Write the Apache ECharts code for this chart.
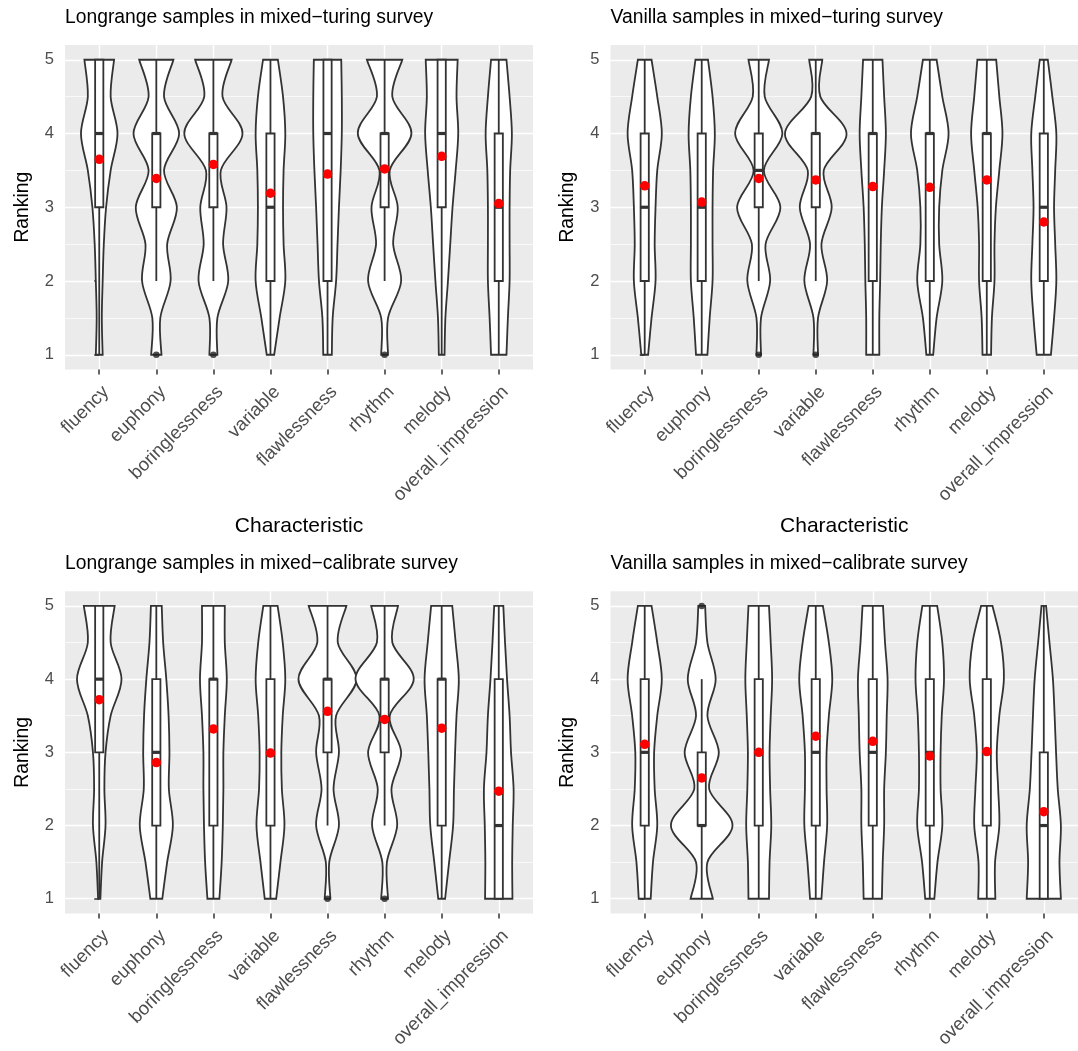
<!DOCTYPE html>
<html>
<head>
<meta charset="utf-8">
<title>Ranking by characteristic</title>
<script src="https://cdn.jsdelivr.net/npm/echarts@6.0.0/dist/echarts.min.js"></script>
<style>
  html, body { margin: 0; padding: 0; background: #fff; }
  #main { width: 1078px; height: 1051px; }
</style>
</head>
<body>
<div id="main"></div>
<script>
// categories on the x axis and their tick positions
const categories = ['fluency', 'euphony', 'boringlessness', 'variable', 'flawlessness', 'rhythm', 'melody', 'overall_impression'];
const catTicks = [0, 1, 2, 3, 4, 5, 6, 7];
const rankTicks = [1, 2, 3, 4, 5];
const rankMinor = [1.5, 2.5, 3.5, 4.5];
// violin half widths (category units) read at ranking 1, 1.5, 2, ... 5
const turingLongWidths = [
  [0.06, 0.045, 0.06, 0.08, 0.12, 0.2, 0.32, 0.2, 0.26],
  [0.09, 0.07, 0.25, 0.19, 0.36, 0.135, 0.40, 0.135, 0.30],
  [0.07, 0.07, 0.26, 0.17, 0.23, 0.13, 0.51, 0.16, 0.32],
  [0.065, 0.16, 0.26, 0.23, 0.22, 0.23, 0.26, 0.22, 0.13],
  [0.075, 0.09, 0.15, 0.175, 0.2, 0.23, 0.25, 0.25, 0.24],
  [0.06, 0.06, 0.29, 0.15, 0.23, 0.09, 0.47, 0.135, 0.31],
  [0.05, 0.065, 0.11, 0.15, 0.19, 0.245, 0.29, 0.26, 0.28],
  [0.135, 0.16, 0.19, 0.19, 0.19, 0.2, 0.23, 0.19, 0.135]
];
const turingVanillaWidths = [
  [0.06, 0.12, 0.19, 0.175, 0.19, 0.22, 0.30, 0.22, 0.12],
  [0.1, 0.14, 0.19, 0.19, 0.19, 0.2, 0.23, 0.19, 0.11],
  [0.04, 0.04, 0.2, 0.12, 0.38, 0.09, 0.415, 0.105, 0.18],
  [0.04, 0.04, 0.2, 0.1, 0.28, 0.14, 0.54, 0.08, 0.115],
  [0.115, 0.115, 0.13, 0.14, 0.16, 0.2, 0.23, 0.2, 0.17],
  [0.06, 0.12, 0.22, 0.165, 0.165, 0.22, 0.33, 0.22, 0.12],
  [0.075, 0.09, 0.135, 0.135, 0.16, 0.22, 0.275, 0.22, 0.165],
  [0.125, 0.18, 0.22, 0.2, 0.18, 0.2, 0.22, 0.15, 0.07]
];
const calibLongWidths = [
  [0.02, 0.05, 0.11, 0.09, 0.11, 0.2, 0.39, 0.2, 0.27],
  [0.105, 0.19, 0.29, 0.22, 0.23, 0.215, 0.175, 0.12, 0.095],
  [0.105, 0.145, 0.165, 0.175, 0.175, 0.2, 0.235, 0.2, 0.2],
  [0.1, 0.175, 0.245, 0.2, 0.19, 0.215, 0.26, 0.215, 0.125],
  [0.05, 0.03, 0.2, 0.105, 0.2, 0.15, 0.51, 0.18, 0.33],
  [0.06, 0.04, 0.22, 0.12, 0.29, 0.09, 0.51, 0.135, 0.235],
  [0.06, 0.13, 0.2, 0.215, 0.235, 0.26, 0.3, 0.245, 0.185],
  [0.24, 0.235, 0.245, 0.26, 0.215, 0.19, 0.145, 0.11, 0.08]
];
const calibVanillaWidths = [
  [0.105, 0.145, 0.22, 0.175, 0.165, 0.22, 0.3, 0.22, 0.12],
  [0.195, 0.1, 0.54, 0.13, 0.3, 0.1, 0.245, 0.1, 0.06],
  [0.18, 0.19, 0.22, 0.2, 0.19, 0.21, 0.235, 0.21, 0.18],
  [0.1, 0.145, 0.2, 0.19, 0.19, 0.23, 0.29, 0.23, 0.125],
  [0.16, 0.175, 0.2, 0.2, 0.23, 0.245, 0.26, 0.215, 0.18],
  [0.08, 0.135, 0.22, 0.19, 0.19, 0.21, 0.25, 0.22, 0.13],
  [0.15, 0.145, 0.22, 0.2, 0.175, 0.22, 0.3, 0.25, 0.1],
  [0.3, 0.275, 0.3, 0.245, 0.215, 0.19, 0.16, 0.1, 0.04]
];
// box stats: [lower whisker, q1, median, q3, upper whisker]
const turingLongBoxes = [[1, 3, 4, 5, 5], [2, 3, 4, 4, 5], [2, 3, 4, 4, 5], [1, 2, 3, 4, 5], [1, 2, 4, 5, 5], [2, 3, 4, 4, 5], [1, 3, 4, 5, 5], [1, 2, 3, 4, 5]];
const turingVanillaBoxes = [[1, 2, 3, 4, 5], [1, 2, 3, 4, 5], [2, 3, 3.5, 4, 5], [2, 3, 4, 4, 5], [1, 2, 4, 4, 5], [1, 2, 4, 4, 5], [1, 2, 4, 4, 5], [1, 2, 3, 4, 5]];
const calibLongBoxes = [[1, 3, 4, 5, 5], [1, 2, 3, 4, 5], [1, 2, 4, 4, 5], [1, 2, 3, 4, 5], [2, 3, 4, 4, 5], [2, 3, 4, 4, 5], [1, 2, 4, 4, 5], [1, 1, 2, 4, 5]];
const calibVanillaBoxes = [[1, 2, 3, 4, 5], [1, 2, 2, 3, 4], [1, 2, 3, 4, 5], [1, 2, 3, 4, 5], [1, 2, 3, 4, 5], [1, 2, 3, 4, 5], [1, 2, 3, 4, 5], [1, 1, 2, 3, 5]];
// mean ranking per characteristic (red points)
const turingLongMeans = [3.65, 3.39, 3.58, 3.19, 3.45, 3.52, 3.69, 3.05];
const turingVanillaMeans = [3.29, 3.07, 3.39, 3.37, 3.28, 3.27, 3.37, 2.8];
const calibLongMeans = [3.72, 2.86, 3.32, 2.99, 3.56, 3.45, 3.33, 2.47];
const calibVanillaMeans = [3.11, 2.65, 3.0, 3.22, 3.15, 2.95, 3.01, 2.19];
// outliers: [category index, ranking]
const turingLongOutliers = [[1, 1], [2, 1], [5, 1]];
const turingVanillaOutliers = [[2, 1], [3, 1]];
const calibLongOutliers = [[4, 1], [5, 1]];
const calibVanillaOutliers = [[1, 5]];

const FONT = 'Liberation Sans, Arial, Helvetica, sans-serif';
const LINE = '#333333';
const LW = 1.8;

const panels = [
  { title: 'Longrange samples in mixed\u2212turing survey', left: 65, top: 45, widths: turingLongWidths, boxes: turingLongBoxes, means: turingLongMeans, outliers: turingLongOutliers, xName: true },
  { title: 'Vanilla samples in mixed\u2212turing survey', left: 610.5, top: 45, widths: turingVanillaWidths, boxes: turingVanillaBoxes, means: turingVanillaMeans, outliers: turingVanillaOutliers, xName: true },
  { title: 'Longrange samples in mixed\u2212calibrate survey', left: 65, top: 591.3, widths: calibLongWidths, boxes: calibLongBoxes, means: calibLongMeans, outliers: calibLongOutliers, xName: false },
  { title: 'Vanilla samples in mixed\u2212calibrate survey', left: 610.5, top: 591.3, widths: calibVanillaWidths, boxes: calibVanillaBoxes, means: calibVanillaMeans, outliers: calibVanillaOutliers, xName: false }
];

// one side of the violin as cubic segments through the sampled widths
function sideCurve(pts, cx, dir) {
  let d = '';
  const n = pts.length;
  const g = k => pts[Math.max(0, Math.min(n - 1, k))];
  for (let k = 0; k < n - 1; k++) {
    const p0 = g(k - 1), p1 = g(k), p2 = g(k + 1), p3 = g(k + 2);
    const c1y = p1[1] + (p2[1] - p0[1]) / 6;
    const c1w = Math.max(0.3, p1[2] + (p2[2] - p0[2]) / 6);
    const c2y = p2[1] - (p3[1] - p1[1]) / 6;
    const c2w = Math.max(0.3, p2[2] - (p3[2] - p1[2]) / 6);
    d += 'C' + (cx + dir * c1w) + ' ' + c1y + ' ' + (cx + dir * c2w) + ' ' + c2y + ' ' + (cx + dir * p2[2]) + ' ' + p2[1];
  }
  return d;
}

function renderViolin(params, api) {
  const i = api.value(0);
  const unit = api.size([1, 0])[0];
  const pts = [];
  for (let k = 0; k < 9; k++) {
    const p = api.coord([i, 1 + k * 0.5]);
    pts.push([p[0], p[1], api.value(k + 1) * unit]);
  }
  const cx = pts[0][0];
  let d = 'M' + (cx + pts[0][2]) + ' ' + pts[0][1];
  d += sideCurve(pts, cx, 1);
  d += 'L' + (cx - pts[8][2]) + ' ' + pts[8][1];
  d += sideCurve(pts.slice().reverse(), cx, -1);
  d += 'Z';
  return { type: 'path', shape: { pathData: d }, style: { fill: '#fff', stroke: LINE, lineWidth: LW } };
}

function renderBox(params, api) {
  const i = api.value(0);
  const lo = api.coord([i, api.value(1)]);
  const q1 = api.coord([i, api.value(2)]);
  const med = api.coord([i, api.value(3)]);
  const q3 = api.coord([i, api.value(4)]);
  const hi = api.coord([i, api.value(5)]);
  const half = api.size([0.072, 0])[0];
  const cx = lo[0];
  const ls = { stroke: LINE, lineWidth: LW };
  return {
    type: 'group',
    children: [
      { type: 'line', shape: { x1: cx, y1: lo[1], x2: cx, y2: q1[1] }, style: ls },
      { type: 'line', shape: { x1: cx, y1: q3[1], x2: cx, y2: hi[1] }, style: ls },
      { type: 'rect', shape: { x: cx - half, y: q3[1], width: 2 * half, height: q1[1] - q3[1] }, style: { fill: '#fff', stroke: LINE, lineWidth: LW } },
      { type: 'line', shape: { x1: cx - half, y1: med[1], x2: cx + half, y2: med[1] }, style: { stroke: LINE, lineWidth: 3.2 } }
    ]
  };
}

const grid = [], xAxis = [], yAxis = [], series = [], title = [];
panels.forEach((p, g) => {
  grid.push({ left: p.left, top: p.top, width: 468, height: 324.5, show: true, backgroundColor: '#EBEBEB', borderWidth: 0 });
  title.push({
    text: p.title, left: p.left, top: p.top - 37, padding: 0,
    textStyle: { fontSize: 19.3, fontWeight: 'normal', color: '#000', fontFamily: FONT }
  });
  xAxis.push({
    gridIndex: g, type: 'value', min: -0.6, max: 7.6,
    name: p.xName ? 'Characteristic' : '', nameLocation: 'middle', nameGap: 146,
    nameTextStyle: { fontSize: 21, color: '#000', fontFamily: FONT },
    axisLine: { show: false },
    axisTick: { show: true, length: 5, customValues: catTicks, lineStyle: { color: LINE, width: 1.5 } },
    axisLabel: {
      customValues: catTicks, rotate: 45, margin: 13, fontSize: 18.5, color: '#4D4D4D', fontFamily: FONT,
      align: 'right', verticalAlign: 'top',
      formatter: v => categories[Math.round(v)]
    },
    splitLine: { show: true, lineStyle: { color: '#fff', width: 1.4 } }
  });
  yAxis.push({
    gridIndex: g, type: 'value', min: 0.8, max: 5.2,
    name: 'Ranking', nameLocation: 'middle', nameGap: 33,
    nameTextStyle: { fontSize: 19.3, color: '#000', fontFamily: FONT },
    axisLine: { show: false },
    axisTick: { show: true, length: 5, customValues: rankTicks, lineStyle: { color: LINE, width: 1.5 } },
    axisLabel: { customValues: rankTicks, margin: 11, fontSize: 16.5, color: '#4D4D4D', fontFamily: FONT },
    splitLine: { show: true, lineStyle: { color: '#fff', width: 1.4 } }
  });
  yAxis.push({
    gridIndex: g, type: 'value', min: 0.8, max: 5.2, position: 'left',
    axisLine: { show: false },
    axisTick: { show: false, customValues: rankMinor },
    axisLabel: { show: false, customValues: rankMinor },
    splitLine: { show: true, lineStyle: { color: '#fff', width: 0.7 } }
  });
  series.push({
    type: 'custom', xAxisIndex: g, yAxisIndex: 2 * g, z: 2, silent: true,
    renderItem: renderViolin, encode: { x: 0, y: 1 },
    data: p.widths.map((w, i) => [i].concat(w))
  });
  series.push({
    type: 'custom', xAxisIndex: g, yAxisIndex: 2 * g, z: 3, silent: true,
    renderItem: renderBox, encode: { x: 0, y: 3 },
    data: p.boxes.map((b, i) => [i].concat(b))
  });
  series.push({
    type: 'scatter', xAxisIndex: g, yAxisIndex: 2 * g, z: 4, silent: true,
    symbol: 'circle', symbolSize: 6.5, itemStyle: { color: '#222' },
    data: p.outliers
  });
  series.push({
    type: 'scatter', xAxisIndex: g, yAxisIndex: 2 * g, z: 5, silent: true,
    symbol: 'circle', symbolSize: 9.5, itemStyle: { color: '#FF0000', opacity: 1 },
    data: p.means.map((m, i) => [i, m])
  });
});

const chart = echarts.init(document.getElementById('main'), null, { renderer: 'canvas' });
chart.setOption({
  animation: false,
  backgroundColor: '#fff',
  textStyle: { fontFamily: FONT },
  title: title,
  grid: grid,
  xAxis: xAxis,
  yAxis: yAxis,
  series: series
});
window.addEventListener('resize', () => chart.resize());
</script>
</body>
</html>
